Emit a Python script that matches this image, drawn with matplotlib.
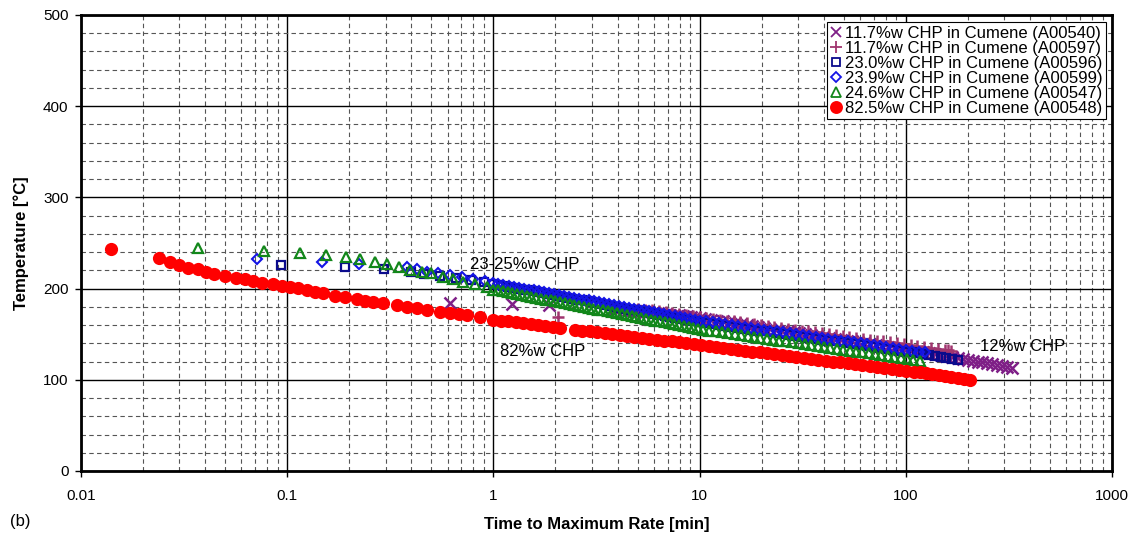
import matplotlib
matplotlib.use("Agg")
import matplotlib.pyplot as plt
from matplotlib.ticker import LogLocator, MultipleLocator, FixedLocator, FixedFormatter

plt.rcParams["font.family"] = ["Liberation Sans", "DejaVu Sans"]

# 11.7 %w CHP in cumene, A00540 (x markers)
tmr_a00540 = [0.616, 1.227, 1.867,
              3.90, 4.09, 4.29, 4.49, 4.71, 4.94, 5.18, 5.43, 5.69, 5.96, 6.25,
              6.55, 6.87, 7.20, 7.55, 7.91, 8.30, 8.70, 9.12, 9.55, 10.0,
              10.68, 11.40, 12.18, 13.00, 13.88, 14.83, 15.83, 16.90, 18.05, 19.28,
              20.58, 21.98, 23.47, 25.06, 26.76, 28.58, 30.51, 32.58, 34.79, 37.15,
              39.67, 42.36, 45.24, 48.31, 51.58, 55.08, 58.82, 62.81, 67.07, 71.61,
              76.47, 81.66, 87.20, 93.11, 99.42, 106.2, 113.4, 121.1, 129.3, 138.0,
              147.4, 157.4, 168.1, 179.5, 189.5, 200.0, 211.1, 222.8, 235.3, 248.3,
              262.1, 276.7, 292.1, 308.3, 325.5]
temp_a00540 = [184.6, 182.8, 182.0,
               178, 177.5, 177, 176.5, 176, 175.5, 175, 174.5, 174, 173.5, 173,
               172.5, 172, 171.5, 171, 170.5, 170, 169.5, 169, 168.5, 168,
               167, 166, 165, 164, 163, 162, 161, 160, 159, 158,
               157, 156, 155, 154, 153, 152, 151, 150, 149, 148,
               147, 146, 145, 144, 143, 142, 141, 140, 139, 138,
               137, 136, 135, 134, 133, 132, 131, 130, 129, 128,
               127, 126, 125, 124, 123, 122, 121, 120, 119, 118,
               117, 116, 115, 114, 113]

# 11.7 %w CHP in cumene, A00597 (+ markers)
tmr_a00597 = [2.06,
              5.05, 5.45, 5.87, 6.34, 6.84, 7.38, 7.96, 8.59, 9.27, 10.0,
              10.79, 11.64, 12.56, 13.55, 14.62, 15.78, 17.02, 18.37, 19.82, 21.38,
              23.07, 24.89, 26.85, 28.97, 31.26, 33.73, 36.39, 39.26, 42.36, 45.71,
              49.32, 53.21, 57.41, 61.94, 66.83, 72.11, 77.80, 83.95, 90.57, 97.72,
              105.4, 113.8, 122.7, 132.4, 142.9, 154.2, 160.1, 166.3]
temp_a00597 = [169.2,
               178, 177, 176, 175, 174, 173, 172, 171, 170, 169,
               168, 167, 166, 165, 164, 163, 162, 161, 160, 159,
               158, 157, 156, 155, 154, 153, 152, 151, 150, 149,
               148, 147, 146, 145, 144, 143, 142, 141, 140, 139,
               138, 137, 136, 135, 134, 133, 132.5, 132]

# 23.0 %w CHP in cumene, A00596 (squares)
tmr_a00596 = [0.093, 0.191, 0.295, 0.398, 0.46, 0.55, 0.66, 0.78, 0.90,
              1.000, 1.056, 1.116, 1.179, 1.245, 1.315, 1.389, 1.468, 1.551, 1.638,
              1.730, 1.828, 1.931, 2.040, 2.154, 2.276, 2.404, 2.540, 2.683, 2.834,
              2.994, 3.162, 3.341, 3.529, 3.728, 3.938, 4.160, 4.394, 4.642, 4.904,
              5.180, 5.472, 5.781, 6.107, 6.451, 6.814, 7.199, 7.604, 8.033, 8.486,
              8.964, 9.468, 10.0,
              10.75, 11.55, 12.41, 13.34, 14.33, 15.40, 16.55, 17.78, 19.11, 20.54,
              22.07, 23.71, 25.48, 27.38, 29.43, 31.62, 33.98, 36.52, 39.24, 42.17,
              45.32, 48.70, 52.33, 56.23, 60.43, 64.94, 69.78, 74.99, 80.58, 86.60,
              93.06, 100.0, 106.7, 113.8, 121.4, 129.6, 138.2, 147.5, 157.3, 167.8,
              179.0]
temp_a00596 = [225.9, 224.0, 221.2, 218.6, 216.5, 214.0, 211.5, 209.0, 206.8,
               205, 204, 203, 202, 201, 200, 199, 198, 197, 196,
               195, 194, 193, 192, 191, 190, 189, 188, 187, 186,
               185, 184, 183, 182, 181, 180, 179, 178, 177, 176,
               175, 174, 173, 172, 171, 170, 169, 168, 167, 166,
               165, 164, 163,
               162, 161, 160, 159, 158, 157, 156, 155, 154, 153,
               152, 151, 150, 149, 148, 147, 146, 145, 144, 143,
               142, 141, 140, 139, 138, 137, 136, 135, 134, 133,
               132, 131, 130, 129, 128, 127, 126, 125, 124, 123,
               122]

# 23.9 %w CHP in cumene, A00599 (diamonds)
tmr_a00599 = [0.0711, 0.147, 0.224, 0.380, 0.425, 0.475, 0.541, 0.616, 0.702, 0.80, 0.91,
              1.000, 1.058, 1.119, 1.184, 1.252, 1.324, 1.401, 1.482, 1.567, 1.658,
              1.754, 1.855, 1.962, 2.076, 2.196, 2.323, 2.457, 2.599, 2.749, 2.908,
              3.076, 3.253, 3.442, 3.641, 3.851, 4.074, 4.309, 4.558, 4.822, 5.100,
              5.395, 5.707, 6.037, 6.386, 6.755, 7.145, 7.558, 7.995, 8.457, 8.937,
              9.453, 10.0,
              10.75, 11.55, 12.41, 13.34, 14.33, 15.40, 16.55, 17.78, 19.11, 20.54,
              22.07, 23.71, 25.48, 27.38, 29.43, 31.62, 33.98, 36.52, 39.24, 42.17,
              45.32, 48.70, 52.33, 56.23, 60.43, 64.94, 69.78, 74.99, 80.58, 86.60,
              93.06, 100.0, 107.5, 115.5, 124.1]
temp_a00599 = [232.5, 229.5, 227.0, 224.0, 221.0, 218.5, 216.8, 215.0, 212.4, 210.2, 208.7,
               206, 205, 204, 203, 202, 201, 200, 199, 198, 197,
               196, 195, 194, 193, 192, 191, 190, 189, 188, 187,
               186, 185, 184, 183, 182, 181, 180, 179, 178, 177,
               176, 175, 174, 173, 172, 171, 170, 169, 168, 167,
               166, 165,
               164, 163, 162, 161, 160, 159, 158, 157, 156, 155,
               154, 153, 152, 151, 150, 149, 148, 147, 146, 145,
               144, 143, 142, 141, 140, 139, 138, 137, 136, 135,
               134, 133, 132, 131, 130]

# 24.6 %w CHP in cumene, A00547 (triangles)
tmr_a00547 = [0.0371, 0.0772, 0.115, 0.154, 0.193, 0.225, 0.267, 0.304, 0.348, 0.394,
              0.449, 0.501, 0.571, 0.639, 0.714, 0.814, 0.928,
              1.000, 1.055, 1.112, 1.173, 1.237, 1.305, 1.376, 1.451, 1.530, 1.614,
              1.702, 1.795, 1.893, 1.997, 2.106, 2.221, 2.342, 2.470, 2.605, 2.748,
              2.897, 3.056, 3.223, 3.399, 3.584, 3.780, 3.987, 4.205, 4.434, 4.677,
              4.932, 5.202, 5.486, 5.786, 6.101, 6.435, 6.786, 7.157, 7.548, 7.960,
              8.395, 8.854, 9.338, 9.847, 10.38,
              11.15, 11.97, 12.86, 13.80, 14.83, 15.92, 17.09, 18.35, 19.70, 21.16,
              22.72, 24.39, 26.19, 28.12, 30.19, 32.42, 34.81, 37.37, 40.13, 43.09,
              46.27, 49.68, 53.34, 57.28, 61.50, 66.04, 70.91, 76.14, 81.75, 87.78,
              94.25, 101.2, 108.7, 116.7]
temp_a00547 = [244.2, 241.6, 238.7, 236.8, 234.3, 232.5, 228.8, 227.0, 223.4, 220.4,
               218.5, 216.8, 213.0, 210.2, 207.6, 204.7, 201.4,
               199, 198, 197, 196, 195, 194, 193, 192, 191, 190,
               189, 188, 187, 186, 185, 184, 183, 182, 181, 180,
               179, 178, 177, 176, 175, 174, 173, 172, 171, 170,
               169, 168, 167, 166, 165, 164, 163, 162, 161, 160,
               159, 158, 157, 156, 155,
               154, 153, 152, 151, 150, 149, 148, 147, 146, 145,
               144, 143, 142, 141, 140, 139, 138, 137, 136, 135,
               134, 133, 132, 131, 130, 129, 128, 127, 126, 125,
               124, 123, 122, 121]

# 82.5 %w CHP in cumene, A00548 (filled circles)
tmr_a00548 = [0.0140, 0.0239, 0.0270, 0.0300, 0.0331, 0.0371, 0.0404, 0.0443, 0.0499,
              0.0564, 0.0624, 0.0685, 0.0757, 0.0850, 0.0940, 0.1032, 0.1132, 0.1243,
              0.136, 0.150, 0.171, 0.191, 0.217, 0.238, 0.262, 0.292, 0.340, 0.380,
              0.425, 0.475, 0.551, 0.616, 0.680, 0.742, 0.861,
              1.000, 1.086, 1.180, 1.282, 1.393, 1.514, 1.644, 1.786, 1.941, 2.109,
              2.489, 2.704, 2.938, 3.192, 3.467, 3.767, 4.093, 4.446, 4.831,
              5.248, 5.702, 6.194, 6.730, 7.311, 7.943, 8.630, 9.376, 10.19,
              11.05, 11.99, 13.02, 14.13, 15.33, 16.63, 18.05, 19.59, 21.26, 23.07,
              25.03, 27.16, 29.48, 31.99, 34.71, 37.67, 40.88, 44.36, 48.14, 52.24,
              56.69, 61.52, 66.76, 72.44, 78.61, 85.31, 92.58, 100.5, 109.0,
              117.0, 125.5, 134.6, 144.3, 154.9, 166.1, 178.2, 191.2, 205.1]
temp_a00548 = [243.4, 234.0, 229.5, 226.0, 223.0, 221.0, 218.5, 216.0, 214.0,
               212.0, 210.0, 208.7, 206.5, 204.7, 203.0, 202.0, 200.3, 198.5,
               196.6, 194.8, 191.9, 190.4, 188.2, 186.7, 185.3, 183.9, 182.0, 180.0,
               178.4, 176.5, 174.7, 173.6, 172.3, 171.0, 168.5,
               166, 165, 164, 163, 162, 161, 160, 159, 158, 157,
               155, 154, 153, 152, 151, 150, 149, 148, 147,
               146, 145, 144, 143, 142, 141, 140, 139, 138,
               137, 136, 135, 134, 133, 132, 131, 130, 129, 128,
               127, 126, 125, 124, 123, 122, 121, 120, 119, 118,
               117, 116, 115, 114, 113, 112, 111, 110, 109,
               108, 107, 106, 105, 104, 103, 102, 101, 100]

x_ticks = [0.01, 0.1, 1, 10, 100, 1000]
x_tick_labels = ["0.01", "0.1", "1", "10", "100", "1000"]

# (data, label, plot style, legend marker size)
series = [
    (tmr_a00540, temp_a00540, "11.7%w CHP in Cumene (A00540)",
     dict(marker="x", color="#7f1f87", ms=8, mew=1.8), 7),
    (tmr_a00597, temp_a00597, "11.7%w CHP in Cumene (A00597)",
     dict(marker="+", color="#a0356e", ms=9, mew=1.8), 8),
    (tmr_a00596, temp_a00596, "23.0%w CHP in Cumene (A00596)",
     dict(marker="s", color="#0a0a8c", mfc="none", ms=6, mew=1.6), 6),
    (tmr_a00599, temp_a00599, "23.9%w CHP in Cumene (A00599)",
     dict(marker="D", color="#1414e6", mfc="none", ms=5.5, mew=1.5), 5),
    (tmr_a00547, temp_a00547, "24.6%w CHP in Cumene (A00547)",
     dict(marker="^", color="#12871a", mfc="none", ms=7, mew=1.6), 7),
    (tmr_a00548, temp_a00548, "82.5%w CHP in Cumene (A00548)",
     dict(marker="o", color="#ff0000", ms=9.5, mew=0), 8),
]

fig = plt.figure(figsize=(11.47, 5.45), dpi=100)
ax = fig.add_axes([0.0706, 0.1358, 0.8989, 0.8367])

for x, t, label, style, _ in series:
    ax.plot(x, t, linestyle="none", label=label, **style)

ax.set_xscale("log")
ax.set_xlim(0.01, 1000)
ax.set_ylim(0, 500)

ax.xaxis.set_major_locator(FixedLocator(x_ticks))
ax.xaxis.set_major_formatter(FixedFormatter(x_tick_labels))
ax.xaxis.set_minor_locator(LogLocator(base=10, subs=range(2, 10)))
ax.xaxis.set_minor_formatter(FixedFormatter([]))
ax.yaxis.set_major_locator(MultipleLocator(100))
ax.yaxis.set_minor_locator(MultipleLocator(20))

ax.grid(which="major", color="black", linewidth=1.0, linestyle="-")
ax.grid(which="minor", color="#555555", linewidth=0.8, linestyle=(0, (4, 3)))
ax.set_axisbelow(True)

ax.tick_params(which="major", direction="out", length=4, width=1, labelsize=11,
               colors="black")
ax.tick_params(which="minor", length=0)
ax.tick_params(axis="x", pad=9)
ax.tick_params(axis="y", pad=5)
for sp in ax.spines.values():
    sp.set_linewidth(2)

ax.set_xlabel("Time to Maximum Rate [min]", fontsize=12, fontweight="bold", labelpad=10)
ax.set_ylabel("Temperature [°C]", fontsize=12, fontweight="bold", labelpad=10)
fig.text(0.009, 0.035, "(b)", fontsize=12)

ax.text(0.77, 226, "23-25%w CHP", fontsize=12, va="center", ha="left")
ax.text(1.08, 131.5, "82%w CHP", fontsize=12, va="center", ha="left")
ax.text(229, 136, "12%w CHP", fontsize=12, va="center", ha="left")

leg = ax.legend(loc="upper right", bbox_to_anchor=(0.994, 0.984), fontsize=12,
                frameon=True, fancybox=False, framealpha=1, edgecolor="black",
                borderpad=0.2, labelspacing=0.0, handlelength=0.7,
                handletextpad=0.2, borderaxespad=0, numpoints=1)
leg.get_frame().set_linewidth(0.8)
for h, s in zip(leg.legend_handles, series):
    h.set_markeredgewidth(1.3)
    h.set_markersize(s[4])

fig.savefig("out.png", dpi=100)
